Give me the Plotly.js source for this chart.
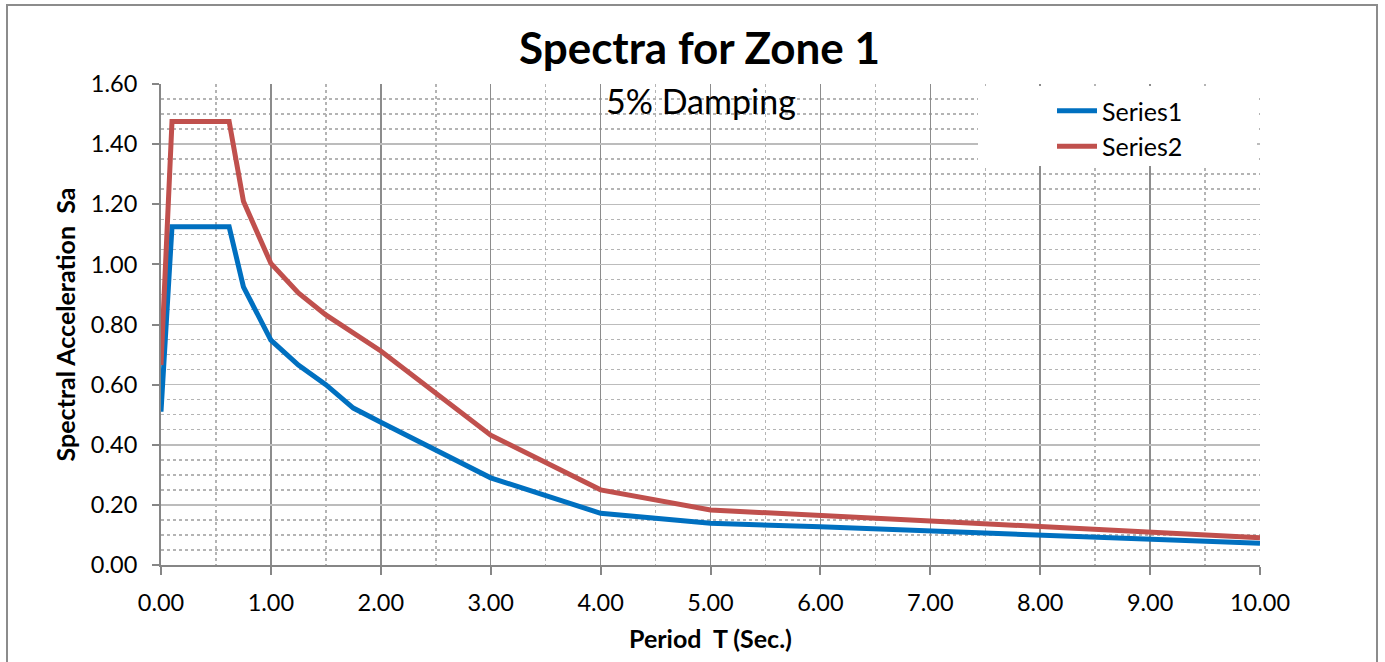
<!DOCTYPE html>
<html>
<head>
<meta charset="utf-8">
<script src="https://cdn.plot.ly/plotly-3.0.1.min.js"></script>
<style>
html,body{margin:0;padding:0;background:#fff;}
#chart{width:1385px;height:662px;}
</style>
</head>
<body>
<div id="chart"></div>
<script>
// Period T (sec.)
var periodT = [0, 0.1, 0.62, 0.75, 1.0, 1.25, 1.5, 1.75, 2.0, 3.0, 4.0, 5.0, 6.0, 7.0, 8.0, 9.0, 10.0];
// Spectral acceleration Sa
var series1 = [0.51, 1.125, 1.125, 0.925, 0.748, 0.665, 0.600, 0.522, 0.475, 0.290, 0.172, 0.139, 0.127, 0.113, 0.099, 0.086, 0.072];
var series2 = [0.665, 1.475, 1.475, 1.210, 1.003, 0.905, 0.832, 0.770, 0.712, 0.432, 0.250, 0.183, 0.163, 0.146, 0.128, 0.110, 0.091];
var seriesNames = ["Series1", "Series2"];
var chartTitle = "Spectra for Zone 1";
var subTitle = "5% Damping";
var xTitle = "Period  T (Sec.)";
var yTitle = "Spectral Acceleration  Sa";

var L = 161, R = 125, T = 84, B = 97;
var W = 1385, H = 662;
var pw = W - L - R, ph = H - T - B;
function px(x){ return (x - L) / pw; }
function py(y){ return (H - B - y) / ph; }

var traces = [
  {x: periodT, y: series1, name: seriesNames[0], type: 'scatter', mode: 'lines',
   line: {color: '#0070C0', width: 5}},
  {x: periodT, y: series2, name: seriesNames[1], type: 'scatter', mode: 'lines',
   line: {color: '#C0504D', width: 5}}
];

var font = "Lato, 'Open Sans', sans-serif";

var layout = {
  width: W, height: H,
  margin: {l: L, r: R, t: T, b: B, pad: 0},
  paper_bgcolor: '#ffffff', plot_bgcolor: '#ffffff',
  font: {family: font, color: '#000000', size: 22},
  title: {text: '<b>' + chartTitle + '</b>', font: {family: font, size: 44, color: '#000'},
          xref: 'container', x: 699.5 / W, xanchor: 'center',
          yref: 'container', y: 1 - 49 / H, yanchor: 'middle'},
  showlegend: true,
  legend: {x: px(1052), y: py(88), xanchor: 'left', yanchor: 'top',
           bgcolor: 'rgba(255,255,255,0)', font: {family: font, size: 25, color: '#000'},
           tracegroupgap: 0, itemwidth: 40},
  xaxis: {
    range: [0, 10], dtick: 1, tick0: 0, tickformat: '.2f',
    showgrid: true, gridcolor: '#8c8c8c', gridwidth: 1.5,
    showline: true, linecolor: '#868686', linewidth: 2,
    ticks: 'outside', ticklen: 8, tickwidth: 2, tickcolor: '#868686',
    ticklabelstandoff: 8,
    tickfont: {family: font, size: 23.5, color: '#000'},
    zeroline: false, fixedrange: true,
    minor: {dtick: 0.5, showgrid: true, gridcolor: '#b4b4b4', griddash: 'dot', gridwidth: 1.5, ticks: ''},
    title: {text: '<b>' + xTitle + '</b>', font: {family: font, size: 25, color: '#000'}, standoff: 15}
  },
  yaxis: {
    range: [0, 1.6], dtick: 0.2, tick0: 0, tickformat: '.2f',
    showgrid: true, gridcolor: '#bcbcbc', gridwidth: 1.5,
    showline: true, linecolor: '#868686', linewidth: 2,
    ticks: 'outside', ticklen: 7, tickwidth: 2, tickcolor: '#868686',
    ticklabelstandoff: 10,
    tickfont: {family: font, size: 23.5, color: '#000'},
    zeroline: false, fixedrange: true,
    minor: {dtick: 0.05, showgrid: true, gridcolor: '#b4b4b4', griddash: 'dot', gridwidth: 1.5, ticks: ''},
    title: {text: '<b>' + yTitle + '</b>', font: {family: font, size: 25, color: '#000'}, standoff: 8}
  },
  annotations: [
    {text: subTitle, xref: 'paper', yref: 'paper', x: px(701), y: py(100),
     xanchor: 'center', yanchor: 'middle', showarrow: false,
     font: {family: font, size: 34, color: '#000'}}
  ],
  shapes: [
    {type: 'rect', xref: 'paper', yref: 'paper', layer: 'above',
     x0: px(978), x1: px(1257), y0: py(166), y1: py(86),
     fillcolor: '#ffffff', line: {width: 0}},
    {type: 'rect', xref: 'paper', yref: 'paper', layer: 'above',
     x0: px(7), x1: px(1377), y0: py(720), y1: py(5),
     fillcolor: 'rgba(0,0,0,0)', line: {color: '#8c8c8c', width: 2}}
  ]
};

Plotly.newPlot('chart', traces, layout, {displayModeBar: false, staticPlot: true});
</script>
</body>
</html>
